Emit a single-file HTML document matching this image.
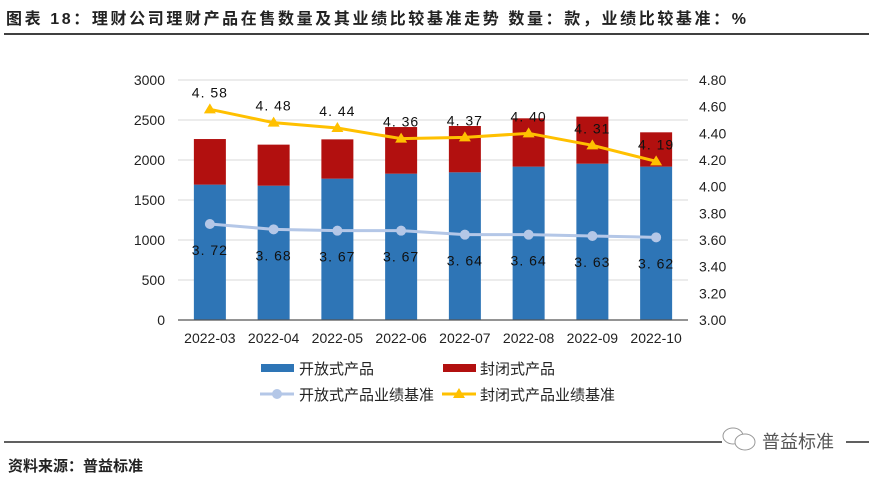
<!DOCTYPE html>
<html><head><meta charset="utf-8"><style>
body{margin:0;background:#fff;width:873px;height:477px;overflow:hidden;font-family:"Liberation Sans","Noto Sans CJK SC",sans-serif}
svg text{font-family:"Liberation Sans","Noto Sans CJK SC",sans-serif}
</style></head><body>
<svg id="c" width="873" height="477">
<text x="6" y="24" font-size="16" font-weight="bold" fill="#222" textLength="740" lengthAdjust="spacing">图表 18：理财公司理财产品在售数量及其业绩比较基准走势   数量：款，业绩比较基准：%</text>
<line x1="4" y1="34" x2="869" y2="34" stroke="#000" stroke-width="1.5"/>
<g id="plot"></g>
<line x1="4" y1="442" x2="869" y2="442" stroke="#000" stroke-width="1.2"/>
<rect x="722" y="427" width="124" height="26" fill="#fff"/>
<g fill="#fff" stroke="#999" stroke-width="1"><ellipse cx="733" cy="436" rx="10" ry="8"/><ellipse cx="745" cy="442" rx="10" ry="8"/></g>
<text x="762" y="448" font-size="18" fill="#555">普益标准</text>
<text x="8" y="471" font-size="15" font-weight="bold" fill="#222">资料来源：普益标准</text>
</svg>
<script>
const categories=["2022-03","2022-04","2022-05","2022-06","2022-07","2022-08","2022-09","2022-10"];
const openCount=[1692,1679,1767,1829,1846,1917,1954,1917];
const closedCount=[570,513,491,583,579,604,588,429];
const openRate=[3.72,3.68,3.67,3.67,3.64,3.64,3.63,3.62];
const closedRate=[4.58,4.48,4.44,4.36,4.37,4.40,4.31,4.19];
const leftTicks=[0,500,1000,1500,2000,2500,3000];
const rightTicks=["3.00","3.20","3.40","3.60","3.80","4.00","4.20","4.40","4.60","4.80"];

const NS="http://www.w3.org/2000/svg";
const g=document.getElementById('plot');
const X0=178,X1=688,Y0=320,Y1=80;
const band=(X1-X0)/categories.length;
const xc=i=>X0+band*(i+0.5);
const yL=v=>Y0-(v/3000)*(Y0-Y1);
const yR=v=>Y0-((v-3)/1.8)*(Y0-Y1);
function el(t,a,txt){const e=document.createElementNS(NS,t);for(const k in a)e.setAttribute(k,a[k]);if(txt!==undefined)e.textContent=txt;g.appendChild(e);return e;}

leftTicks.forEach(v=>{
  if(v>0){const l=el('line',{x1:X0,x2:X1,y1:yL(v),y2:yL(v),stroke:'#d9d9d9','stroke-width':1});
  
  }
  const t=el('text',{x:165,y:yL(v)+5,'font-size':14,'text-anchor':'end',fill:'#222'},String(v));
  
  
});
rightTicks.forEach(s=>{
  const t=el('text',{x:699,y:yR(parseFloat(s))+5,'font-size':14,fill:'#222'},s);
  
  
});
categories.forEach((c,i)=>{
  const bw=32;
  const b1=el('rect',{x:xc(i)-bw/2,y:yL(openCount[i]),width:bw,height:Y0-yL(openCount[i]),fill:'#2e75b6'});
  
  
  const tot=openCount[i]+closedCount[i];
  const b2=el('rect',{x:xc(i)-bw/2,y:yL(tot),width:bw,height:yL(openCount[i])-yL(tot),fill:'#b2100f'});
  
  
  const t=el('text',{x:xc(i),y:343,'font-size':14,'text-anchor':'middle',fill:'#222'},c);
  
  
});
const ax=el('line',{x1:X0,x2:X1,y1:Y0,y2:Y0,stroke:'#555','stroke-width':1.2});



const p1=el('polyline',{points:openRate.map((v,i)=>xc(i)+','+yR(v)).join(' '),fill:'none',stroke:'#b4c7e7','stroke-width':3});


const p2=el('polyline',{points:closedRate.map((v,i)=>xc(i)+','+yR(v)).join(' '),fill:'none',stroke:'#ffc000','stroke-width':3});


openRate.forEach((v,i)=>{
  const m=el('circle',{cx:xc(i),cy:yR(v),r:5,fill:'#b4c7e7'});
  
  
  const t=el('text',{x:xc(i),y:yR(v)+31,'font-size':14,'text-anchor':'middle',fill:'#111','letter-spacing':'1'},v.toFixed(2).replace('.','. '));
  
  
});
closedRate.forEach((v,i)=>{
  const x=xc(i),y=yR(v);
  const m=el('polygon',{points:`${x},${y-6} ${x-6},${y+4} ${x+6},${y+4}`,fill:'#ffc000'});
  
  
  const t=el('text',{x:x,y:y-12,'font-size':14,'text-anchor':'middle',fill:'#111','letter-spacing':'1'},v.toFixed(2).replace('.','. '));
  
  
});

// legend
let r=el('rect',{x:261,y:364,width:33,height:8,fill:'#2e75b6'});


let t=el('text',{x:299,y:374,'font-size':15,fill:'#222'},'开放式产品');


r=el('rect',{x:443,y:364,width:33,height:8,fill:'#b2100f'});


t=el('text',{x:480,y:374,'font-size':15,fill:'#222'},'封闭式产品');


r=el('line',{x1:260,x2:294,y1:394,y2:394,stroke:'#b4c7e7','stroke-width':3});


r=el('circle',{cx:277,cy:394,r:5,fill:'#b4c7e7'});


t=el('text',{x:299,y:400,'font-size':15,fill:'#222'},'开放式产品业绩基准');


r=el('line',{x1:442,x2:476,y1:394,y2:394,stroke:'#ffc000','stroke-width':3});


r=el('polygon',{points:'459,388 453,398 465,398',fill:'#ffc000'});


t=el('text',{x:480,y:400,'font-size':15,fill:'#222'},'封闭式产品业绩基准');


</script>
</body></html>
